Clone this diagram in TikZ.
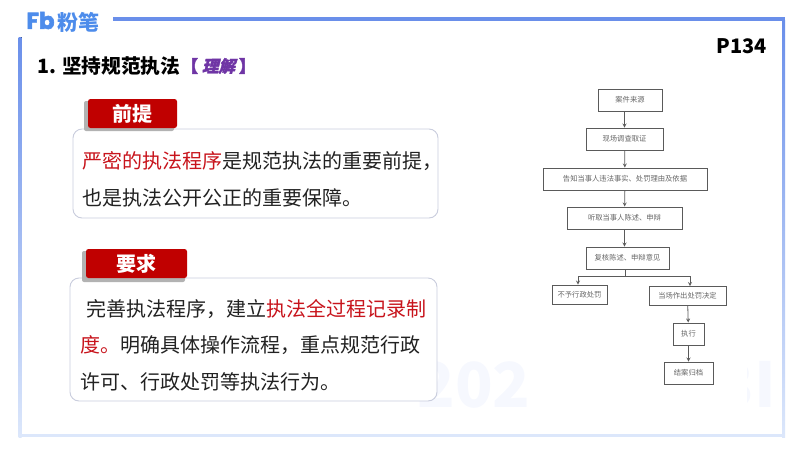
\documentclass[tikz,border=0pt]{standalone}
\usepackage{fontspec}
\setmainfont{Noto Sans CJK SC}
\newfontfamily\slantfont[BoldFeatures={FakeSlant=0.25,FakeBold=2.2}]{Noto Sans CJK SC}
\newfontfamily\bracketfont[BoldFeatures={FakeBold=3}]{Noto Sans CJK SC}
\newfontfamily\logofont[BoldFeatures={FakeBold=2.5}]{Poppins}
\definecolor{fbblue}{HTML}{6A8FEA}
\definecolor{logoblue}{HTML}{4D8CEB}
\definecolor{fbpale}{HTML}{DCE7FB}
\definecolor{tagred}{HTML}{C00000}
\definecolor{bodyred}{HTML}{C8141C}
\definecolor{cardline}{HTML}{C9CDDD}
\definecolor{flowline}{HTML}{5A5A5A}
\definecolor{flowtext}{HTML}{666666}
\definecolor{inkgray}{HTML}{222222}
\definecolor{marksoft}{HTML}{F6F8FE}
\definecolor{understand}{HTML}{6F35A5}
\begin{document}
\begin{tikzpicture}
[x=1pt,y=-1pt,>=stealth,
card/.style = {draw=cardline, line width=0.9pt, fill=white, rounded corners=9pt, inner sep=0pt},
tagbox/.style = {fill=tagred, rounded corners=2.5pt, text=white, font=\fontsize{20}{20}\selectfont\bfseries, inner sep=0pt},
tagshade/.style = {fill=black!30, rounded corners=2pt, inner sep=0pt},
bodytext/.style = {anchor=west, inner sep=0pt, text=inkgray, font=\fontsize{20}{20}\selectfont},
flowbox/.style = {draw=flowline, line width=0.9pt, fill=white, inner sep=0pt, text=flowtext, font=\fontsize{7.3}{7.3}\selectfont},
flowarrow/.style = {draw=flowline, line width=0.8pt, ->},
marktext/.style = {text=marksoft, inner sep=0pt, font=\fontsize{62}{62}\selectfont\bfseries},
]
\useasboundingbox (0,0) rectangle (800,450);

\fill[fbblue] (113,17) rectangle (785,20.5);
\fill[top color=fbblue, bottom color=fbpale] (18.5,37) rectangle (21.5,437);
\fill[top color=fbblue, bottom color=fbpale] (782,20) rectangle (785,437);
\fill[fbpale] (18.5,434) rectangle (785,437);

\node (logoFb) at (40.5,20.5)[text=logoblue, inner sep=0pt, font=\logofont\fontsize{23}{23}\selectfont\bfseries] {Fb};
\node (logoText) at (78,22)[text=logoblue, inner sep=0pt, font=\fontsize{21}{21}\selectfont\bfseries] {粉笔};

\node (markLeft) at (474,385)[marktext] {202};
\begin{scope}
\clip (747,340) rectangle (776,420);
\node (markRight) at (776,385)[marktext, anchor=east] {3I};
\end{scope}

\node (title) at (37,66)[anchor=west, inner sep=0pt, font=\fontsize{19.7}{20}\selectfont\bfseries] {1. 坚持规范执法};
\node (grade) at (218.5,66)[inner sep=0pt, text=understand, font=\fontsize{16.5}{16.5}\selectfont\bfseries] {{\bracketfont 【}\hspace{4pt}{\slantfont 理解}\hspace{4pt}{\bracketfont 】}};
\node (page) at (742,46)[inner sep=0pt, font=\fontsize{20}{20}\selectfont\bfseries] {P134};

\node (premiseCard) at (255.5,173.5)[card, minimum width=365pt, minimum height=89pt] {};
\node (premiseShade) at (129,116)[tagshade, minimum width=90pt, minimum height=30pt] {};
\node (premiseTag) at (132.5,113.5)[tagbox, minimum width=89pt, minimum height=29pt] {前提};
\node (premiseA) at (82,161)[bodytext] {\textcolor{bodyred}{严密的执法程序}是规范执法的重要前提，};
\node (premiseB) at (82,198)[bodytext] {也是执法公开公正的重要保障。};

\node (demandCard) at (253.5,339.5)[card, minimum width=367pt, minimum height=123pt] {};
\node (demandShade) at (133.5,266.5)[tagshade, minimum width=103pt, minimum height=31pt] {};
\node (demandTag) at (136.5,263.5)[tagbox, minimum width=101pt, minimum height=29pt] {要求};
\node (demandA) at (86,309)[bodytext] {完善执法程序，建立\textcolor{bodyred}{执法全过程记录制}};
\node (demandB) at (80,345)[bodytext] {\textcolor{bodyred}{度。}明确具体操作流程，重点规范行政};
\node (demandC) at (80,382)[bodytext] {许可、行政处罚等执法行为。};

\node (source) at (630,100)[flowbox, minimum width=64pt, minimum height=22pt] {案件来源};
\node (survey) at (624.5,139)[flowbox, minimum width=77pt, minimum height=22pt] {现场调查取证};
\node (notify) at (625,179)[flowbox, minimum width=164pt, minimum height=22pt] {告知当事人违法事实、处罚理由及依据};
\node (hear) at (624.5,218)[flowbox, minimum width=115pt, minimum height=22pt] {听取当事人陈述、申辩};
\node (review) at (627.5,258)[flowbox, minimum width=83pt, minimum height=22pt] {复核陈述、申辩意见};
\node (dismiss) at (579.5,294.5)[flowbox, minimum width=55pt, minimum height=19pt] {不予行政处罚};
\node (decide) at (687.5,296)[flowbox, minimum width=77pt, minimum height=19pt] {当场作出处罚决定};
\node (execute) at (688.5,334)[flowbox, minimum width=31pt, minimum height=22pt] {执行};
\node (archive) at (688.5,373)[flowbox, minimum width=49pt, minimum height=22pt] {结案归档};
\coordinate (branch) at (625,276.5);

\draw[flowarrow] (source.south -| survey) -- (survey);
\draw[flowarrow] (survey) -- (notify);
\draw[flowarrow] (notify) -- (hear);
\draw[flowarrow] (hear.south) -- (hear.south |- review.north);
\draw[draw=flowline, line width=0.8pt] (review.south -| branch) -- (branch);
\draw[flowarrow] (branch) -| ([xshift=-1.5pt]dismiss.north);
\draw[flowarrow] (branch) -| ([xshift=2.5pt]decide.north);
\draw[flowarrow] (decide) -- (execute);
\draw[flowarrow] (execute) -- (archive);
\end{tikzpicture}
\end{document}
